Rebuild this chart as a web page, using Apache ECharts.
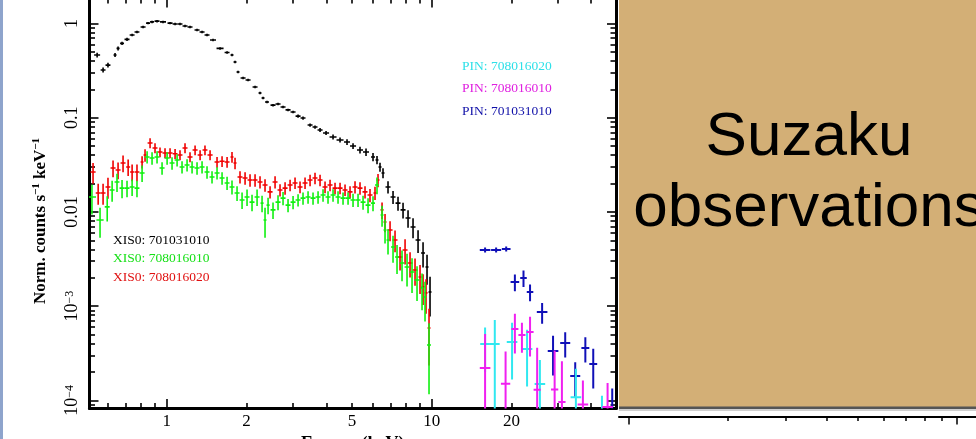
<!DOCTYPE html>
<html><head><meta charset="utf-8">
<script src="https://cdn.jsdelivr.net/npm/echarts@6/dist/echarts.min.js"></script>
<style>html,body{margin:0;padding:0;background:#fff;overflow:hidden}#c{width:976px;height:439px}</style>
</head><body><div id="c"></div>
<script>
// ---------- data (energy keV, normalized counts s^-1 keV^-1, relative error) ----------
const xis0_701031010_E = [0.546,0.575,0.600,0.638,0.655,0.678,0.708,0.740,0.772,0.814,0.850,0.880,0.919,0.968,1.029,1.075,1.122,1.172,1.224,1.301,1.359,1.419,1.495,1.589,1.689,1.763,1.810,1.858,1.941,2.027,2.154,2.249,2.309,2.390,2.518,2.630,2.747,2.869,2.997,3.130,3.268,3.474,3.627,3.789,3.992,4.242,4.508,4.790,5.047,5.362,5.650,6.004,6.216,6.380,6.549,6.840,7.145,7.461,7.794,8.140,8.501,8.880,9.274,9.600,9.854];
const xis0_701031010_Y = [0.463,0.321,0.362,0.463,0.544,0.615,0.678,0.755,0.812,0.918,1.01,1.04,1.06,1.04,1.01,0.99,0.988,0.941,0.918,0.853,0.812,0.755,0.668,0.544,0.492,0.463,0.390,0.306,0.264,0.251,0.212,0.183,0.162,0.147,0.136,0.140,0.130,0.121,0.115,0.104,0.0993,0.0837,0.0797,0.0740,0.0688,0.0624,0.0580,0.0552,0.0501,0.0454,0.0432,0.0383,0.0356,0.0300,0.0259,0.0184,0.0144,0.0124,0.0105,0.00861,0.00691,0.00503,0.00366,0.00260,0.00141];
const xis0_701031010_R = [0.06,0.06,0.06,0.05,0.05,0.04,0.04,0.03,0.03,0.03,0.03,0.03,0.03,0.03,0.03,0.03,0.03,0.03,0.03,0.03,0.03,0.03,0.03,0.03,0.03,0.03,0.03,0.03,0.03,0.03,0.03,0.03,0.03,0.03,0.03,0.03,0.03,0.03,0.03,0.04,0.04,0.04,0.04,0.05,0.05,0.06,0.06,0.07,0.07,0.08,0.09,0.1,0.1,0.11,0.12,0.15,0.16,0.17,0.19,0.21,0.24,0.27,0.3,0.35,0.45];

const xis0_708016020_E = [0.527,0.551,0.575,0.600,0.627,0.655,0.684,0.715,0.740,0.772,0.807,0.828,0.865,0.903,0.943,0.985,1.029,1.075,1.122,1.172,1.224,1.279,1.336,1.394,1.457,1.548,1.617,1.689,1.763,1.810,1.890,1.975,2.062,2.154,2.249,2.349,2.454,2.563,2.676,2.796,2.920,3.049,3.184,3.326,3.474,3.627,3.789,3.957,4.133,4.316,4.508,4.708,4.917,5.135,5.362,5.601,5.849,6.109,6.271,6.494,6.665,6.962,7.270,7.594,7.932,8.283,8.650,9.034,9.274,9.517,9.768];
const xis0_708016020_Y = [0.0265,0.0159,0.0159,0.0184,0.0292,0.0278,0.0330,0.0300,0.0265,0.0265,0.0339,0.0402,0.0539,0.0477,0.0432,0.0422,0.0422,0.0415,0.0402,0.0477,0.0383,0.0454,0.0402,0.0454,0.0402,0.0339,0.0345,0.0339,0.0383,0.0330,0.0235,0.0229,0.0218,0.0218,0.0208,0.0193,0.0163,0.0208,0.0171,0.0179,0.0193,0.0203,0.0184,0.0203,0.0218,0.0229,0.0218,0.0184,0.0193,0.0179,0.0179,0.0171,0.0163,0.0184,0.0179,0.0163,0.0151,0.0159,0.0218,0.0105,0.00781,0.00643,0.00503,0.00332,0.00394,0.00287,0.00242,0.00204,0.00160,0.00138,0.000586];
const xis0_708016020_R = [0.25,0.25,0.25,0.25,0.2,0.2,0.2,0.2,0.2,0.2,0.15,0.15,0.12,0.12,0.12,0.12,0.12,0.12,0.12,0.12,0.12,0.12,0.12,0.12,0.12,0.13,0.13,0.13,0.13,0.14,0.15,0.15,0.15,0.15,0.15,0.15,0.15,0.15,0.15,0.15,0.14,0.14,0.14,0.14,0.14,0.14,0.14,0.14,0.14,0.14,0.14,0.14,0.15,0.15,0.15,0.15,0.16,0.16,0.16,0.2,0.22,0.24,0.26,0.28,0.3,0.3,0.32,0.34,0.36,0.4,0.6];

const xis0_708016010_E = [0.522,0.560,0.596,0.622,0.649,0.678,0.708,0.740,0.772,0.807,0.843,0.880,0.919,0.960,1.003,1.047,1.094,1.142,1.193,1.246,1.301,1.359,1.419,1.482,1.548,1.617,1.689,1.763,1.842,1.924,2.009,2.098,2.192,2.289,2.349,2.412,2.518,2.630,2.747,2.869,2.997,3.130,3.268,3.414,3.565,3.724,3.889,4.061,4.242,4.430,4.627,4.833,5.047,5.271,5.506,5.750,6.004,6.216,6.494,6.665,6.840,7.145,7.397,7.725,8.069,8.427,8.801,9.192,9.434,9.768];
const xis0_708016010_Y = [0.0144,0.00820,0.0113,0.0171,0.0208,0.0179,0.0179,0.0184,0.0179,0.0259,0.0383,0.0373,0.0383,0.0292,0.0373,0.0330,0.0356,0.0300,0.0315,0.0300,0.0292,0.0300,0.0265,0.0235,0.0259,0.0229,0.0203,0.0184,0.0159,0.0134,0.0144,0.0127,0.0144,0.0124,0.00820,0.0118,0.0105,0.0127,0.0140,0.0118,0.0127,0.0134,0.0140,0.0144,0.0140,0.0144,0.0151,0.0144,0.0151,0.0144,0.0140,0.0140,0.0134,0.0134,0.0127,0.0118,0.0124,0.0193,0.00927,0.00643,0.00503,0.00424,0.00332,0.00287,0.00260,0.00230,0.00189,0.00156,0.00125,0.000386];
const xis0_708016010_R = [0.35,0.35,0.3,0.25,0.22,0.22,0.2,0.2,0.2,0.2,0.15,0.15,0.15,0.15,0.15,0.15,0.15,0.15,0.15,0.15,0.15,0.15,0.15,0.15,0.15,0.15,0.16,0.17,0.18,0.2,0.2,0.2,0.2,0.2,0.35,0.2,0.2,0.18,0.16,0.16,0.16,0.15,0.15,0.15,0.15,0.15,0.15,0.15,0.15,0.15,0.15,0.15,0.16,0.16,0.17,0.18,0.18,0.2,0.25,0.28,0.3,0.32,0.34,0.36,0.38,0.4,0.4,0.42,0.45,0.7];

const pin_701031010_E = [15.9,17.5,19.1,20.6,22.2,23.5,26.1,28.7,31.9,34.8,38.0,40.7,48.0];
const pin_701031010_Y = [3.94e-3,3.94e-3,4.04e-3,1.80e-3,1.99e-3,1.41e-3,8.65e-4,3.33e-4,4.06e-4,1.81e-4,3.59e-4,2.43e-4,7e-5];
const pin_701031010_R = [0.06,0.06,0.06,0.2,0.2,0.2,0.25,0.45,0.3,0.4,0.3,0.45,0.9];

const pin_708016020_E = [15.9,17.3,20.1,22.9,25.6,35.0,43.9];
const pin_708016020_Y = [3.96e-4,3.96e-4,4.16e-4,3.50e-4,1.49e-4,1.08e-4,7e-5];
const pin_708016020_R = [0.5,0.8,0.6,0.6,0.8,1.0,0.6];

const pin_708016010_E = [15.9,19.0,20.6,21.9,23.5,25.0,29.1,31.0,37.2,46.1];
const pin_708016010_Y = [2.20e-4,1.5e-4,5.71e-4,4.93e-4,5.31e-4,1.29e-4,1.3e-4,9.6e-5,9e-5,8.5e-5];
const pin_708016010_R = [1.3,1.2,0.45,0.35,0.45,1.8,1.6,1.7,0.8,0.8];

// ---------- ticks / labels ----------
const xLabelValues = [1, 2, 5, 10, 20];
const xMajorTicks = [1, 10];
const xMinorTicks = [0.6, 0.7, 0.8, 0.9, 2, 3, 4, 5, 6, 7, 8, 9, 20, 30, 40];
const yMajorTicks = [1e-4, 1e-3, 0.01, 0.1, 1];
const yMinorTicks = [9e-5, 2e-4, 3e-4, 4e-4, 5e-4, 6e-4, 7e-4, 8e-4, 9e-4, 2e-3, 3e-3, 4e-3, 5e-3, 6e-3, 7e-3, 8e-3, 9e-3, 0.02, 0.03, 0.04, 0.05, 0.06, 0.07, 0.08, 0.09, 0.2, 0.3, 0.4, 0.5, 0.6, 0.7, 0.8, 0.9];
const bgMajorTicks = [1, 10];
const bgMinorTicks = [2, 3, 4, 5, 6, 7, 8, 9];

const X_MIN = 0.511, X_MAX = 49.6, Y_MIN = 8.18e-5, Y_MAX = 1.866;

// ---------- build ----------
function buildCrosses(E, Y, R) {
  const out = [];
  for (let i = 0; i < E.length; i++) {
    const l = Math.log10(E[i]);
    let gap = Infinity;
    if (i > 0) gap = Math.min(gap, l - Math.log10(E[i - 1]));
    if (i < E.length - 1) gap = Math.min(gap, Math.log10(E[i + 1]) - l);
    const hw = Math.min(gap / 2, 0.02);
    const lo = Y[i] * (1 - R[i]);
    out.push([E[i], Y[i], Math.pow(10, l - hw), Math.pow(10, l + hw), lo > 1e-8 ? lo : 1e-8, Y[i] * (1 + R[i])]);
  }
  return out;
}
function crossSeries(name, data, color, lw) {
  return {
    type: 'custom', name: name, xAxisIndex: 0, yAxisIndex: 0, clip: true, data: data,
    encode: { x: 0, y: 1 }, itemStyle: { color: color }, animation: false,
    renderItem: function (params, api) {
      const e = api.value(0), y = api.value(1);
      const pL = api.coord([api.value(2), y]), pR = api.coord([api.value(3), y]);
      const pT = api.coord([e, api.value(5)]), pB = api.coord([e, api.value(4)]);
      return { type: 'group', children: [
        { type: 'line', shape: { x1: pL[0], y1: pL[1], x2: pR[0], y2: pR[1] }, style: { stroke: color, lineWidth: lw } },
        { type: 'line', shape: { x1: pT[0], y1: pT[1], x2: pB[0], y2: pB[1] }, style: { stroke: color, lineWidth: lw } }
      ] };
    }
  };
}
const SERIF = "'Liberation Serif','Times New Roman',serif";
function logAxisX(pos, ticks, len, showLine, labels) {
  return {
    type: 'log', logBase: 10, min: X_MIN, max: X_MAX, gridIndex: 0, position: pos,
    axisLine: { show: showLine, onZero: false, lineStyle: { color: '#000', width: 3 } },
    axisTick: { show: true, inside: true, length: len, customValues: ticks, lineStyle: { color: '#000', width: 1.6 } },
    axisLabel: labels ? { show: true, customValues: labels, margin: 5, color: '#000', fontFamily: SERIF, fontSize: 17,
      formatter: function (v) { return String(Math.round(v * 100) / 100); } } : { show: false },
    splitLine: { show: false }, minorTick: { show: false }
  };
}
function logAxisY(pos, ticks, len, showLine, labels) {
  return {
    type: 'log', logBase: 10, min: Y_MIN, max: Y_MAX, gridIndex: 0, position: pos,
    axisLine: { show: showLine, onZero: false, lineStyle: { color: '#000', width: 3 } },
    axisTick: { show: true, inside: true, length: len, customValues: ticks, lineStyle: { color: '#000', width: 1.6 } },
    axisLabel: labels ? { show: true, customValues: labels, margin: 8, rotate: 90, color: '#000',
      fontFamily: SERIF, fontSize: 18,
      formatter: function (v) {
        const k = Math.round(Math.log10(v));
        if (k >= -2) return '{n|' + String(Math.round(v * 1000) / 1000) + '}';
        return '{n|10}{s|\u2212' + (-k) + '}';
      },
      rich: { n: { fontFamily: SERIF, fontSize: 18, lineHeight: 18, color: '#000' },
              s: { fontFamily: SERIF, fontSize: 12, lineHeight: 10, verticalAlign: 'top', color: '#000' } } } : { show: false },
    splitLine: { show: false }, minorTick: { show: false }
  };
}
function bgAxis(ticks, len, showLine) {
  return { type: 'log', logBase: 10, min: 0.932, max: 11.43, gridIndex: 1, position: 'top',
    axisLine: { show: showLine, onZero: false, lineStyle: { color: '#000', width: 2 } },
    axisTick: { show: true, inside: true, length: len, customValues: ticks, lineStyle: { color: '#000', width: 1.5 } },
    axisLabel: { show: false }, splitLine: { show: false }, minorTick: { show: false } };
}

const chart = echarts.init(document.getElementById('c'), null, { renderer: 'canvas' });
const option = {
  animation: false,
  backgroundColor: '#fff',
  grid: [
    { left: 89.5, right: 360, top: -2, bottom: 30.5, containLabel: false, outerBoundsMode: 'none' },
    { left: 619, right: 0, top: 416.5, height: 22, containLabel: false, outerBoundsMode: 'none' }
  ],
  xAxis: [
    Object.assign(logAxisX('bottom', xMajorTicks, 9.5, true, xLabelValues), {
      name: 'Energy (keV)', nameLocation: 'middle', nameGap: 25,
      nameTextStyle: { fontFamily: SERIF, fontWeight: 'bold', fontSize: 18, color: '#000' } }),
    logAxisX('bottom', xMinorTicks, 5.5, false, null),
    logAxisX('top', xMajorTicks, 9.5, true, null),
    logAxisX('top', xMinorTicks, 5.5, false, null),
    bgAxis(bgMajorTicks, 8, true),
    bgAxis(bgMinorTicks, 4.5, false)
  ],
  yAxis: [
    logAxisY('left', yMajorTicks, 9, true, yMajorTicks),
    logAxisY('left', yMinorTicks, 5.5, false, null),
    logAxisY('right', yMajorTicks, 9, true, null),
    logAxisY('right', yMinorTicks, 5.5, false, null),
    { type: 'value', gridIndex: 1, show: false, min: 0, max: 1 }
  ],
  legend: [
    { left: 108, top: 233, orient: 'vertical', icon: 'none', itemWidth: 0, itemHeight: 14, itemGap: 4.5, padding: 0,
      selectedMode: false, textStyle: { fontFamily: SERIF, fontSize: 13.5 },
      data: [ { name: 'XIS0: 701031010', textStyle: { color: '#000000' } },
              { name: 'XIS0: 708016010', textStyle: { color: '#16e016' } },
              { name: 'XIS0: 708016020', textStyle: { color: '#e01010' } } ] },
    { left: 457, top: 59, orient: 'vertical', icon: 'none', itemWidth: 0, itemHeight: 14, itemGap: 8.5, padding: 0,
      selectedMode: false, textStyle: { fontFamily: SERIF, fontSize: 13.5 },
      data: [ { name: 'PIN: 708016020', textStyle: { color: '#2ee0e8' } },
              { name: 'PIN: 708016010', textStyle: { color: '#e020e0' } },
              { name: 'PIN: 701031010', textStyle: { color: '#1010a8' } } ] }
  ],
  series: [
    crossSeries('XIS0: 701031010', buildCrosses(xis0_701031010_E, xis0_701031010_Y, xis0_701031010_R), '#000000', 1.6),
    crossSeries('XIS0: 708016020', buildCrosses(xis0_708016020_E, xis0_708016020_Y, xis0_708016020_R), '#f00000', 1.6),
    crossSeries('XIS0: 708016010', buildCrosses(xis0_708016010_E, xis0_708016010_Y, xis0_708016010_R), '#10f010', 1.6),
    crossSeries('PIN: 701031010', buildCrosses(pin_701031010_E, pin_701031010_Y, pin_701031010_R), '#1010b8', 2),
    crossSeries('PIN: 708016020', buildCrosses(pin_708016020_E, pin_708016020_Y, pin_708016020_R), '#30e8f0', 2),
    crossSeries('PIN: 708016010', buildCrosses(pin_708016010_E, pin_708016010_Y, pin_708016010_R), '#f020f0', 2)
  ],
  graphic: [
    { type: 'rect', z: 100, shape: { x: 0, y: 0, width: 3, height: 439 }, style: { fill: '#8ea4cc' } },
    { type: 'rect', z: 100, shape: { x: 619, y: 0, width: 357, height: 408 }, style: { fill: '#d3af76' } },
    { type: 'rect', z: 101, shape: { x: 619, y: 406.5, width: 357, height: 2.5 }, style: { fill: '#555555' } },
    { type: 'rect', z: 101, shape: { x: 619, y: 409, width: 357, height: 2 }, style: { fill: '#d0d0d0' } },
    { type: 'text', z: 102, x: 809, y: 173,
      style: { text: 'Suzaku\nobservations', fontFamily: "'Liberation Sans',Arial,sans-serif", fontSize: 62, lineHeight: 71,
               fill: '#000', align: 'center', verticalAlign: 'middle' } },
    { type: 'text', z: 102, x: 40.5, y: 221, rotation: Math.PI / 2,
      style: { text: '{t|Norm. counts s}{s|\u22121}{t| keV}{s|\u22121}', align: 'center', verticalAlign: 'middle',
               fontFamily: SERIF, fontWeight: 'bold', fontSize: 17, fill: '#000',
               rich: { t: { fontFamily: SERIF, fontWeight: 'bold', fontSize: 17, lineHeight: 19, fill: '#000', color: '#000' },
                       s: { fontFamily: SERIF, fontWeight: 'bold', fontSize: 11, lineHeight: 10, verticalAlign: 'top', fill: '#000', color: '#000' } } } }
  ]
};
chart.setOption(option);
</script>
</body></html>
